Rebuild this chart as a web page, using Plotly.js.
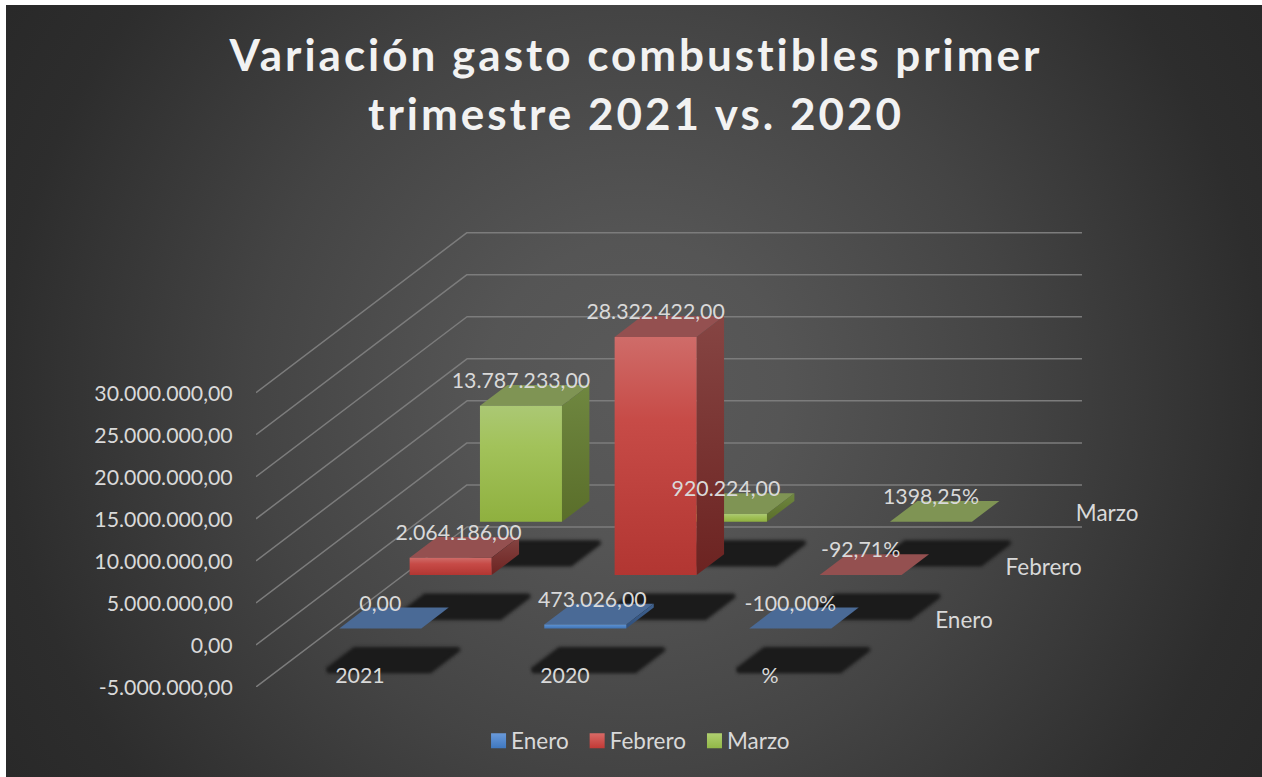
<!DOCTYPE html>
<html>
<head>
<meta charset="utf-8">
<script src="https://cdn.plot.ly/plotly-3.0.1.min.js"></script>
<style>
  html,body{margin:0;padding:0;background:#fff;width:1262px;height:777px;overflow:hidden}
  #bg{position:absolute;left:6px;top:5px;width:1256px;height:772px;
      background:radial-gradient(circle at 628px 386px,#5a5a5a 0,#555 150px,#444 380px,#2d2d2d 630px,#282828 760px)}
  #chart{position:absolute;left:0;top:0;width:1262px;height:777px}
  .scatterlayer .js-line{stroke-linejoin:round}
  .scatterlayer .trace:nth-child(n+2):nth-child(-n+28){filter:blur(1.6px)}
  .gtitle{letter-spacing:3px}
  .legendpoints path{transform:translate(27.5px,0)}
  .legend .traces:nth-child(2){translate:-4px 0}
  .legend .traces:nth-child(3){translate:-8px 0}
  .yaxislayer-above{transform:translateY(1px)}
</style>
</head>
<body>
<div id="bg"></div>
<div id="chart"></div>
<script>
const categories = ['2021', '2020', '%'];
const seriesNames = ['Enero', 'Febrero', 'Marzo'];
const enero   = [0, 473026, -100];
const febrero = [2064186, 28322422, -92.71];
const marzo   = [13787233, 920224, 1398.25];
const eneroLabels   = ['0,00', '473.026,00', '-100,00%'];
const febreroLabels = ['2.064.186,00', '28.322.422,00', '-92,71%'];
const marzoLabels   = ['13.787.233,00', '920.224,00', '1398,25%'];
const tickValues = [-5000000, 0, 5000000, 10000000, 15000000, 20000000, 25000000, 30000000];
const tickLabels = ['-5.000.000,00', '0,00', '5.000.000,00', '10.000.000,00', '15.000.000,00', '20.000.000,00', '25.000.000,00', '30.000.000,00'];

// --- oblique projection set-up (screen layout, not data) ---
const W = 1262, H = 777;
const M = {l: 256, r: 62, t: 160, b: 90};
const pxPerCat = 205, pxPerUnit = 42.05 / 5e6;
const xRange = [0, (W - M.l - M.r) / pxPerCat];
const floorV = tickValues[0];
const yRange = [floorV, floorV + (H - M.t - M.b) / pxPerUnit];
const rowDX = 70.33 / pxPerCat, rowDY = 53.33 / pxPerUnit;
const P = (cat, depth, v) => [cat + depth * rowDX, v + depth * rowDY];
const nRows = seriesNames.length, nCats = categories.length;

const styles = [
  {front: [[0, '#3f74b6'], [1, '#5f93d3']], top: '#4a6a96', side: [[0, '#2f4f7c'], [1, '#3f628f']], sw: ['#6a9ada', '#3f78c0']},
  {front: [[0, '#b23632'], [0.65, '#c74b47'], [1, '#cf6c69']], top: '#945050', side: [[0, '#6c2321'], [1, '#864543']], sw: ['#d96a66', '#c23a36']},
  {front: [[0, '#8fb03f'], [0.65, '#a2c25a'], [1, '#abc874']], top: '#7f9454', side: [[0, '#5a6e2a'], [1, '#6f8740']], sw: ['#b0d070', '#92b848']}
];

const traces = [];
function poly(points, extra) {
  const pts = points.concat([points[0]]);
  return Object.assign({
    type: 'scatter', mode: 'lines', x: pts.map(p => p[0]), y: pts.map(p => p[1]),
    fill: 'toself', line: {width: 0}, hoverinfo: 'skip', showlegend: false
  }, extra);
}

// grid: front-left oblique edge, then the back wall
const gx = [], gy = [];
tickValues.forEach(v => {
  const a = P(0, 0, v), b = P(0, nRows, v), c = P(nCats, nRows, v);
  gx.push(a[0], b[0], c[0], null); gy.push(a[1], b[1], c[1], null);
});
traces.push({type: 'scatter', mode: 'lines', x: gx, y: gy, line: {color: '#7c7c7c', width: 1.5}, hoverinfo: 'skip', showlegend: false});

// floor shadows (trace slots 2-28 are softened by the stylesheet)
const barX = [0.3, 0.7], barD = [0.31, 0.70], shX = 0.05, shShift = -0.008;
[[8, 'rgba(27,27,27,0.25)'], [5, 'rgba(27,27,27,0.5)'], [3, 'rgb(27,27,27)']].forEach(([w, col]) => {
  for (let r = 0; r < nRows; r++) for (let c = 0; c < nCats; c++) {
    const x0 = c + barX[0] - shX + shShift, x1 = c + barX[1] + shX + shShift, d0 = r + barD[0], d1 = r + barD[1];
    traces.push(poly([P(x0, d0, floorV), P(x1, d0, floorV), P(x1, d1, floorV), P(x0, d1, floorV)],
      {fillcolor: col, line: {width: w, color: col}}));
  }
});

// bars, back row first
const seriesValues = [enero, febrero, marzo];
for (let r = nRows - 1; r >= 0; r--) {
  for (let c = 0; c < nCats; c++) {
    const v = seriesValues[r][c], st = styles[r];
    const x0 = c + barX[0], x1 = c + barX[1], d0 = r + barD[0], d1 = r + barD[1];
    const h = Math.max(v, 0);
    traces.push(poly([P(x0, d0, h), P(x1, d0, h), P(x1, d1, h), P(x0, d1, h)], {fillcolor: st.top}));
    if (h > 1e5) {
      traces.push(poly([P(x1, d0, 0), P(x1, d1, 0), P(x1, d1, h), P(x1, d0, h)],
        {fillgradient: {type: 'vertical', colorscale: st.side}}));
      traces.push(poly([P(x0, d0, 0), P(x1, d0, 0), P(x1, d0, h), P(x0, d0, h)],
        {fillgradient: {type: 'vertical', colorscale: st.front}}));
    }
  }
}

// labels
const labelColor = '#d9d9d9', fontFamily = 'Lato, Carlito, sans-serif', fs = 21.3, fsWord = 22.5;
const allLabels = [eneroLabels, febreroLabels, marzoLabels];
const labelLift = 23 / pxPerUnit;
const nudge = {'2.064.186,00': 8, '473.026,00': 7};
const lx = [], ly = [], lt = [];
for (let r = 0; r < nRows; r++) for (let c = 0; c < nCats; c++) {
  const lab = allLabels[r][c];
  const p = P(c + 0.5 + (nudge[lab] || 0) / pxPerCat, r + barD[0], Math.max(seriesValues[r][c], 0) + labelLift);
  lx.push(p[0]); ly.push(p[1]); lt.push(lab);
}
traces.push({type: 'scatter', mode: 'text', x: lx, y: ly, text: lt, textposition: 'middle center', cliponaxis: false,
  textfont: {family: fontFamily, size: fs, color: labelColor}, hoverinfo: 'skip', showlegend: false});

// category labels on the front of the floor
const catY = floorV + 9 / pxPerUnit;
traces.push({type: 'scatter', mode: 'text', x: categories.map((_, i) => i + 0.507), y: categories.map(() => catY), text: categories,
  textposition: 'middle center', cliponaxis: false, textfont: {family: fontFamily, size: fs, color: labelColor}, hoverinfo: 'skip', showlegend: false});

// series labels on the depth axis
const sp = seriesNames.map((_, r) => P(nCats + 29 / pxPerCat, r + 0.5, -4 / pxPerUnit));
traces.push({type: 'scatter', mode: 'text', x: sp.map(p => p[0]), y: sp.map(p => p[1]), text: seriesNames,
  textposition: 'middle right', cliponaxis: false, textfont: {family: fontFamily, size: fsWord, color: labelColor}, hoverinfo: 'skip', showlegend: false});

// legend entries
seriesNames.forEach((name, r) => {
  traces.push({type: 'scatter', mode: 'markers', name: name, x: [null], y: [null], hoverinfo: 'skip', showlegend: true,
    marker: {symbol: 'square', size: 15, color: styles[r].sw[0], gradient: {type: 'vertical', color: styles[r].sw[1]}, line: {width: 0}}});
});

const layout = {
  width: W, height: H,
  margin: M,
  paper_bgcolor: 'rgba(0,0,0,0)', plot_bgcolor: 'rgba(0,0,0,0)',
  font: {family: fontFamily, color: labelColor, size: fs},
  title: {
    text: '<span style="font-size:44px">Variación gasto combustibles primer</span><br><span style="font-size:44px">trimestre 2021 vs. 2020</span>',
    font: {family: fontFamily, size: 45.5, color: '#f2f2f2', weight: 700},
    x: 636 / W, xanchor: 'center', y: 1 - 71 / H, yanchor: 'middle'
  },
  xaxis: {range: xRange, visible: false, fixedrange: true},
  yaxis: {range: yRange, showgrid: false, zeroline: false, showline: false, fixedrange: true,
    tickmode: 'array', tickvals: tickValues, ticktext: tickLabels, ticks: 'outside', ticklen: 18, tickcolor: 'rgba(0,0,0,0)',
    tickfont: {family: fontFamily, size: fs, color: labelColor}},
  showlegend: true,
  legend: {orientation: 'h', x: 0.2278, xanchor: 'left', y: -0.1025, yanchor: 'middle',
    font: {family: fontFamily, size: fsWord, color: labelColor}, bgcolor: 'rgba(0,0,0,0)', traceorder: 'normal', itemclick: false, itemdoubleclick: false}
};
Plotly.newPlot('chart', traces, layout, {displayModeBar: false, staticPlot: true});
</script>
</body>
</html>
